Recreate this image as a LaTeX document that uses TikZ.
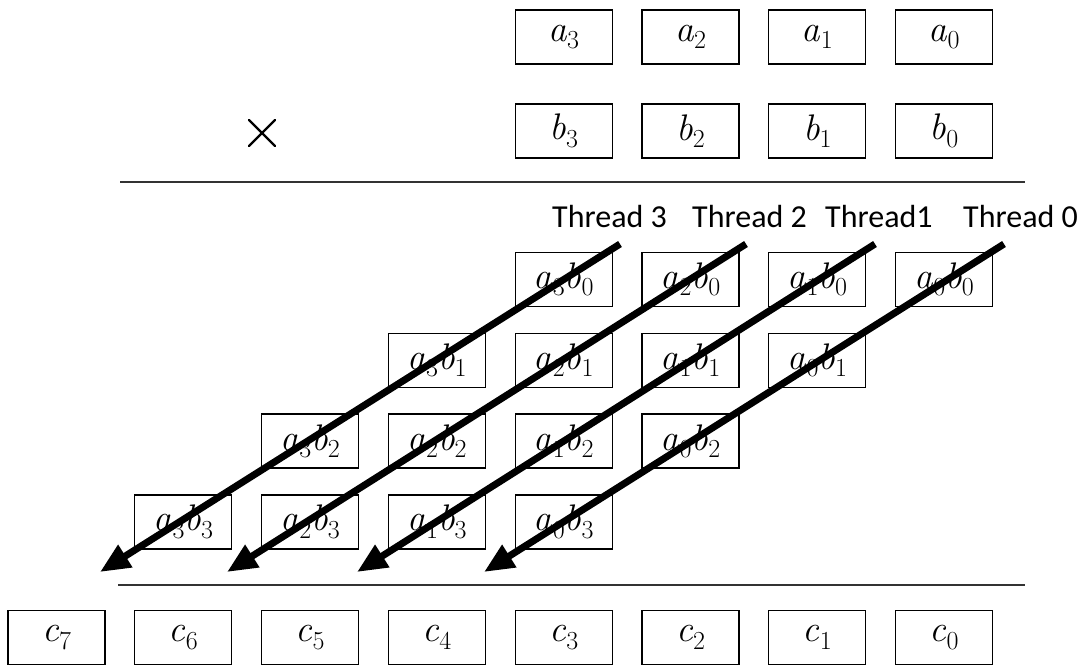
\documentclass[tikz,border=0pt]{standalone}
\usepackage{fontspec}
\newfontfamily\threadfont{Carlito}
\usetikzlibrary{arrows.meta}
% italic letter with a lowered, smaller index
\newcommand\isub[2]{\textit{#1}\raisebox{-0.2em}{\fontsize{26}{30}\selectfont #2}}
\begin{document}
\begin{tikzpicture}[x=1pt,y=-1pt,
  cell/.style={draw, line width=1.3pt, minimum width=97pt, minimum height=54pt,
    inner sep=0pt, font=\fontsize{37}{42}\selectfont},
  rule/.style={line width=1.2pt, draw=black!80},
  thread/.style={line width=7pt, -{Triangle[length=30pt,width=25pt]}},
  tlabel/.style={anchor=base west, inner sep=0pt, font=\threadfont\fontsize{32}{38}\selectfont}]
\useasboundingbox (0,0) rectangle (1087,665);

% operand rows a and b
\foreach \i in {0,...,3} {
  \pgfmathsetmacro\cx{56.5+126.8*(7-\i)}
  \node[cell] (a\i) at (\cx,37) {\isub{a}{\i}};
  \node[cell] (b\i) at (\cx,131) {\isub{b}{\i}};
}
% multiplication sign
\coordinate (mulc) at (262,133);
\draw[line width=2.4pt, line cap=round] ([shift={(-13,-13)}]mulc) -- ([shift={(13,13)}]mulc)
  ([shift={(-13,13)}]mulc) -- ([shift={(13,-13)}]mulc);

% rules
\coordinate (r1l) at (120,182); \coordinate (r1r) at (1025,182);
\coordinate (r2l) at (118,585); \coordinate (r2r) at (1025,585);
\draw[rule] (r1l) -- (r1r);
\draw[rule] (r2l) -- (r2r);

% partial products a_i b_j
\foreach \j in {0,...,3} {
  \foreach \i in {0,...,3} {
    \pgfmathsetmacro\cx{56.5+126.8*(7-\i-\j)}
    \pgfmathsetmacro\cy{279.5+80.8*\j}
    \node[cell] (p\i\j) at (\cx,\cy) {\isub{a}{\i}\isub{b}{\j}};
  }
}

% result row
\foreach \k in {0,...,7} {
  \pgfmathsetmacro\cx{56.5+126.8*(7-\k)}
  \node[cell] (c\k) at (\cx,637.5) {\isub{c}{\k}};
}

% thread labels
\node[tlabel] (lt3) at (552,227) {Thread 3};
\node[tlabel] (lt2) at (692,227) {Thread 2};
\node[tlabel] (lt1) at (825,227) {Thread1};
\node[tlabel] (lt0) at (963,227) {Thread 0};

% thread arrows
\coordinate (t3s) at (620,244); \coordinate (t3e) at (100,572);
\coordinate (t2s) at (746,244); \coordinate (t2e) at (227,572);
\coordinate (t1s) at (875,244); \coordinate (t1e) at (357,572);
\coordinate (t0s) at (1004,244); \coordinate (t0e) at (484,572);
\draw[thread] (t3s) -- (t3e);
\draw[thread] (t2s) -- (t2e);
\draw[thread] (t1s) -- (t1e);
\draw[thread] (t0s) -- (t0e);
\end{tikzpicture}
\end{document}
